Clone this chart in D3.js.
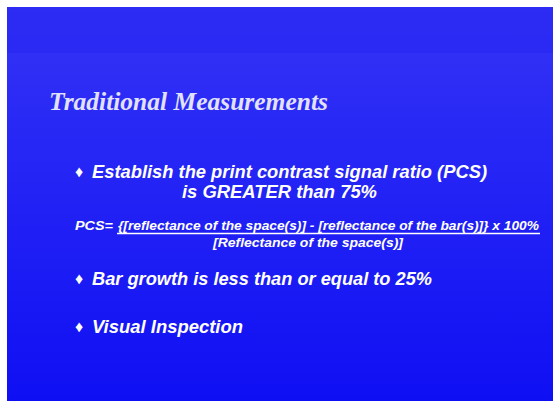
<!DOCTYPE html>
<html>
<head>
<meta charset="utf-8">
<script src="https://cdn.jsdelivr.net/npm/d3@7"></script>
<style>
  html, body { margin: 0; padding: 0; background: #fff; }
</style>
</head>
<body>
<div id="slide"></div>
<script>
// slide content
const title = "Traditional Measurements";
const bullets = [
  ["Establish the print contrast signal ratio (PCS)", "is GREATER than 75%"],
  ["Bar growth is less than or equal to 25%"],
  ["Visual Inspection"]
];
const formulaLabel = "PCS=";
const formulaTop = "{[reflectance of the space(s)] - [reflectance of the bar(s)]} x 100%";
const formulaBottom = "[Reflectance of the space(s)]";

const width = 556, height = 404;

const svg = d3.select("#slide").append("svg")
    .attr("width", width)
    .attr("height", height)
    .attr("viewBox", [0, 0, width, height]);

// background gradient
const grad = svg.append("defs").append("linearGradient")
    .attr("id", "bg")
    .attr("x1", 0).attr("y1", 0).attr("x2", 0).attr("y2", 1);
grad.append("stop").attr("offset", "0%").attr("stop-color", "#3434f6");
grad.append("stop").attr("offset", "100%").attr("stop-color", "#0f0ff4");

svg.append("rect")
    .attr("x", 7).attr("y", 7)
    .attr("width", 546).attr("height", 394)
    .attr("fill", "url(#bg)");

// slightly darker top band
svg.append("rect")
    .attr("x", 7).attr("y", 7)
    .attr("width", 546).attr("height", 46)
    .attr("fill", "#2424f2")
    .attr("opacity", 0.5);

// title
svg.append("text")
    .attr("x", 49).attr("y", 110)
    .attr("font-family", "Liberation Serif, Times New Roman, serif")
    .attr("font-weight", "bold")
    .attr("font-style", "italic")
    .attr("font-size", 25.5)
    .attr("fill", "#e2e2ff")
    .attr("textLength", 279)
    .attr("lengthAdjust", "spacingAndGlyphs")
    .text(title);

const sans = "Liberation Sans, Arial, sans-serif";

// bullet rows: [x, baseline, width] per line
const rowPos = [
  [[92, 178, 395], [182, 198, 195]],
  [[92, 285, 340]],
  [[92, 333, 151]]
];

const rows = svg.append("g")
    .attr("font-family", sans)
    .attr("font-weight", "bold")
    .attr("font-style", "italic")
    .attr("font-size", 18)
    .attr("fill", "#fff");

bullets.forEach((lines, i) => {
  const first = rowPos[i][0];
  rows.append("text")
      .attr("x", 75).attr("y", first[1] - 1)
      .attr("font-style", "normal")
      .attr("font-size", 16)
      .text("\u2666");
  lines.forEach((ln, j) => {
    const p = rowPos[i][j];
    rows.append("text")
        .attr("x", p[0]).attr("y", p[1])
        .attr("textLength", p[2])
        .attr("lengthAdjust", "spacingAndGlyphs")
        .text(ln);
  });
});

// formula
const f = svg.append("g")
    .attr("font-family", sans)
    .attr("font-weight", "bold")
    .attr("font-style", "italic")
    .attr("font-size", 13)
    .attr("fill", "#fff");

f.append("text").attr("x", 75).attr("y", 230)
    .attr("textLength", 38).attr("lengthAdjust", "spacingAndGlyphs")
    .text(formulaLabel);
f.append("text").attr("x", 118).attr("y", 230)
    .attr("textLength", 421).attr("lengthAdjust", "spacingAndGlyphs")
    .text(formulaTop);
f.append("line")
    .attr("x1", 117).attr("x2", 540)
    .attr("y1", 233.5).attr("y2", 233.5)
    .attr("stroke", "#fff").attr("stroke-width", 1.5);
f.append("text").attr("x", 213).attr("y", 247)
    .attr("textLength", 190).attr("lengthAdjust", "spacingAndGlyphs")
    .text(formulaBottom);
</script>
</body>
</html>
